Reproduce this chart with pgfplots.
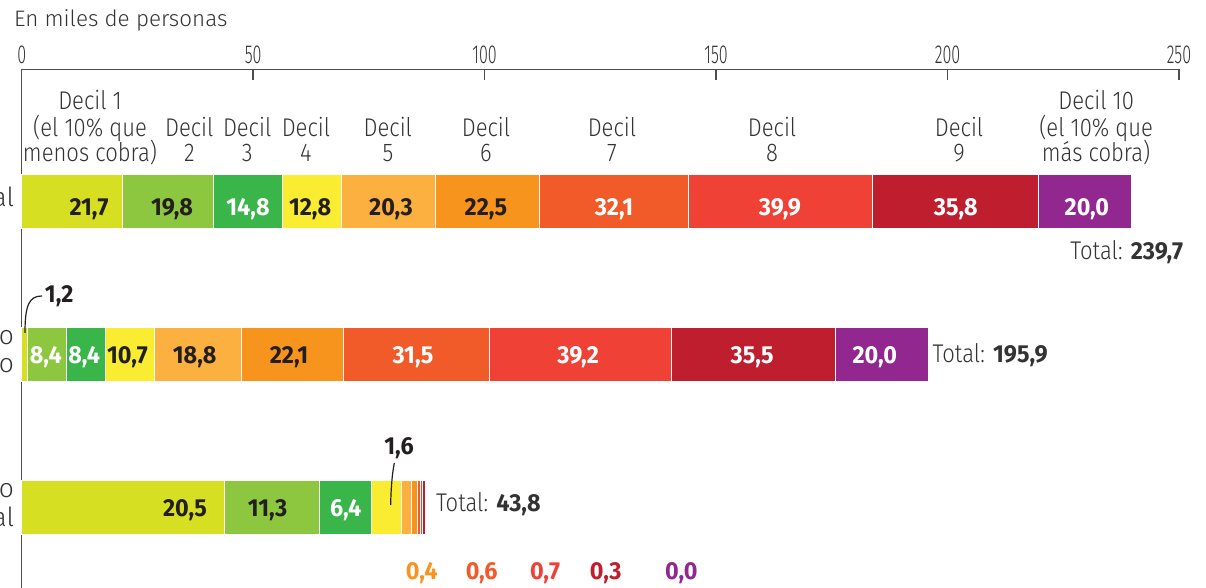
\documentclass[border=0pt]{standalone}
\usepackage{pgfplots}
\pgfplotsset{compat=1.18}
\usepackage{fontspec}
\setmainfont{Fira Sans}
\newfontfamily\FLight{Fira Sans Light}[FakeStretch=0.86]
\newfontfamily\FRow{Fira Sans Light}[FakeStretch=1.0]
\newfontfamily\FTick{Fira Sans Light}[FakeStretch=0.62]
\newfontfamily\FBold{Fira Sans Bold}[FakeStretch=0.95]
\newfontfamily\FSub{Fira Sans Light}
\newcommand\FHead{\FLight\fontsize{12.8}{13}\selectfont}
\newcommand\FRw{\FRow\fontsize{13.2}{13}\selectfont}
\newcommand\FVal{\FBold\fontsize{12.3}{13}\selectfont}
\newcommand\FTk{\FTick\fontsize{13}{13}\selectfont}
\newcommand\FSb{\FSub\fontsize{11.2}{12}\selectfont}
\definecolor{dA}{HTML}{D7DF23}
\definecolor{dB}{HTML}{8DC63F}
\definecolor{dC}{HTML}{39B54A}
\definecolor{dD}{HTML}{F9EC31}
\definecolor{dE}{HTML}{FBB040}
\definecolor{dF}{HTML}{F7941D}
\definecolor{dG}{HTML}{F15A29}
\definecolor{dH}{HTML}{EF4136}
\definecolor{dI}{HTML}{BE1E2D}
\definecolor{dJ}{HTML}{92278F}
\definecolor{dk}{HTML}{231F20}
\definecolor{tg}{HTML}{333333}
\definecolor{ag}{HTML}{4D4D4D}
\tikzset{labx/.style={inner sep=0pt, outer sep=0pt}}
\begin{document}
\begin{tikzpicture}
\begin{axis}[
  scale only axis, width=578.65pt, height=259.35pt,
  xmin=0, xmax=250, ymin=-588, ymax=-69.3,
  axis x line*=top, axis y line*=left,
  xtick={0,50,100,150,200,250}, ytick=\empty,
  tick align=inside, major tick length=5.5pt,
  axis line style={draw=ag, line width=0.7pt},
  x tick style={draw=ag, line width=0.7pt},
  xticklabel style={font=\FTk, anchor=base, yshift=3pt, text=tg, inner sep=0pt},
  /pgf/number format/assume math mode=true,
  xbar stacked, bar width=54,
  clip=false,
  every axis plot/.append style={draw=white, line width=0.5pt},
]
\addplot[fill=dA] coordinates {(21.7,-202) (1.2,-355) (43.8,-508)};
\addplot[fill=dB] coordinates {(19.8,-202) (8.4,-355) (20.5,-508)};
\addplot[fill=dC] coordinates {(14.8,-202) (8.4,-355) (11.3,-508)};
\addplot[fill=dD] coordinates {(12.8,-202) (10.7,-355) (6.4,-508)};
\addplot[fill=dE] coordinates {(20.3,-202) (18.8,-355) (2.1,-508)};
\addplot[fill=dF] coordinates {(22.5,-202) (22.1,-355) (1.5,-508)};
\addplot[fill=dG] coordinates {(32.1,-202) (31.5,-355) (0.6,-508)};
\addplot[fill=dH] coordinates {(39.9,-202) (39.2,-355) (0.45,-508)};
\addplot[fill=dI] coordinates {(35.8,-202) (35.5,-355) (0.55,-508)};
\addplot[fill=dJ] coordinates {(20.0,-202) (20.0,-355) (0.0,-508)};
\coordinate (bbl) at (axis cs:-4.688,-588);
\coordinate (btr) at (axis cs:255.84,0);
\coordinate (org) at (axis cs:0,0);
\end{axis}
\begin{scope}[shift={(org)}, x=2.31460pt, y=0.5pt]
\node[labx, anchor=base west, text=tg, font=\FSb] at (-1.66,-26.7) {En miles de personas};

\node[labx, anchor=base east, text=tg, font=\FRw] at (-1.66,-207) {Total};
\node[labx, anchor=base east, text=tg, font=\FRw] at (-1.66,-345) {Contrato};
\node[labx, anchor=base east, text=tg, font=\FRw] at (-1.66,-373) {indefinido};
\node[labx, anchor=base east, text=tg, font=\FRw] at (-1.66,-498) {Contrato};
\node[labx, anchor=base east, text=tg, font=\FRw] at (-1.66,-527) {temporal};

\node[labx, anchor=base, text=tg, font=\FHead] at (14.76,-110) {Decil 1};
\node[labx, anchor=base, text=tg, font=\FHead] at (14.76,-136.5) {(el 10\% que};
\node[labx, anchor=base, text=tg, font=\FHead] at (14.76,-162) {menos cobra)};
\node[labx, anchor=base, text=tg, font=\FHead] at (36.2,-136.5) {Decil};
\node[labx, anchor=base, text=tg, font=\FHead] at (36.2,-162) {2};
\node[labx, anchor=base, text=tg, font=\FHead] at (48.7,-136.5) {Decil};
\node[labx, anchor=base, text=tg, font=\FHead] at (48.7,-162) {3};
\node[labx, anchor=base, text=tg, font=\FHead] at (61.4,-136.5) {Decil};
\node[labx, anchor=base, text=tg, font=\FHead] at (61.4,-162) {4};
\node[labx, anchor=base, text=tg, font=\FHead] at (79.1,-136.5) {Decil};
\node[labx, anchor=base, text=tg, font=\FHead] at (79.1,-162) {5};
\node[labx, anchor=base, text=tg, font=\FHead] at (100.3,-136.5) {Decil};
\node[labx, anchor=base, text=tg, font=\FHead] at (100.3,-162) {6};
\node[labx, anchor=base, text=tg, font=\FHead] at (127.5,-136.5) {Decil};
\node[labx, anchor=base, text=tg, font=\FHead] at (127.5,-162) {7};
\node[labx, anchor=base, text=tg, font=\FHead] at (162.1,-136.5) {Decil};
\node[labx, anchor=base, text=tg, font=\FHead] at (162.1,-162) {8};
\node[labx, anchor=base, text=tg, font=\FHead] at (202.5,-136.5) {Decil};
\node[labx, anchor=base, text=tg, font=\FHead] at (202.5,-162) {9};
\node[labx, anchor=base, text=tg, font=\FHead] at (232.1,-110) {Decil 10};
\node[labx, anchor=base, text=tg, font=\FHead] at (232.1,-136.5) {(el 10\% que};
\node[labx, anchor=base, text=tg, font=\FHead] at (232.1,-162) {más cobra)};

\node[labx, anchor=base, font=\FVal, text=dk] at (14.54,-216) {21,7};
\node[labx, anchor=base, font=\FVal, text=dk] at (32.47,-216) {19,8};
\node[labx, anchor=base, font=\FVal, text=white] at (48.89,-216) {14,8};
\node[labx, anchor=base, font=\FVal, text=dk] at (62.3,-216) {12,8};
\node[labx, anchor=base, font=\FVal, text=dk] at (79.78,-216) {20,3};
\node[labx, anchor=base, font=\FVal, text=dk] at (100.3,-216) {22,5};
\node[labx, anchor=base, font=\FVal, text=white] at (127.96,-216) {32,1};
\node[labx, anchor=base, font=\FVal, text=white] at (163.8,-216) {39,9};
\node[labx, anchor=base, font=\FVal, text=white] at (201.8,-216) {35,8};
\node[labx, anchor=base, font=\FVal, text=white] at (230.1,-216) {20,0};
\node[labx, anchor=base, font=\FVal, text=white] at (5.21,-364) {8,4};
\node[labx, anchor=base, font=\FVal, text=white] at (13.5,-364) {8,4};
\node[labx, anchor=base, font=\FVal, text=dk] at (22.86,-364) {10,7};
\node[labx, anchor=base, font=\FVal, text=dk] at (37.37,-364) {18,8};
\node[labx, anchor=base, font=\FVal, text=dk] at (57.75,-364) {22,1};
\node[labx, anchor=base, font=\FVal, text=white] at (84.53,-364) {31,5};
\node[labx, anchor=base, font=\FVal, text=white] at (120.2,-364) {39,2};
\node[labx, anchor=base, font=\FVal, text=white] at (157.8,-364) {35,5};
\node[labx, anchor=base, font=\FVal, text=white] at (184.3,-364) {20,0};
\node[labx, anchor=base, font=\FVal, text=dk] at (35.28,-517) {20,5};
\node[labx, anchor=base, font=\FVal, text=dk] at (53.1,-517) {11,3};
\node[labx, anchor=base, font=\FVal, text=white] at (70.0,-517) {6,4};
\node[labx, anchor=base, font=\FVal, text=dk] at (81.5,-455) {1,6};
\node[labx, anchor=base, font=\FVal, text=dF] at (86.41,-580) {0,4};
\node[labx, anchor=base, font=\FVal, text=dG] at (99.37,-580) {0,6};
\node[labx, anchor=base, font=\FVal, text=dH] at (113.05,-580) {0,7};
\node[labx, anchor=base, font=\FVal, text=dI] at (126.16,-580) {0,3};
\node[labx, anchor=base, font=\FVal, text=dJ] at (142.49,-580) {0,0};
\node[labx, anchor=base west, font=\FVal, text=dk] at (5.03,-303) {1,2};

\node[labx, anchor=base east, text=tg] at (250.9,-260) {{\FHead Total: }{\FVal 239,7}};
\node[labx, anchor=base west, text=tg] at (196.8,-363) {{\FHead Total: }{\FVal 195,9}};
\node[labx, anchor=base west, text=tg] at (89.5,-512) {{\FHead Total: }{\FVal 43,8}};

\draw[dk, line width=0.6pt] (0.71,-333) .. controls (0.71,-305) and (1.6,-296) .. (4.4,-296);
\draw[dk, line width=0.6pt] (79.7,-505) .. controls (79.8,-485) and (80.1,-472) .. (80.5,-463);
\end{scope}
\pgfresetboundingbox
\path[use as bounding box] (bbl) rectangle (btr);
\end{tikzpicture}
\end{document}
